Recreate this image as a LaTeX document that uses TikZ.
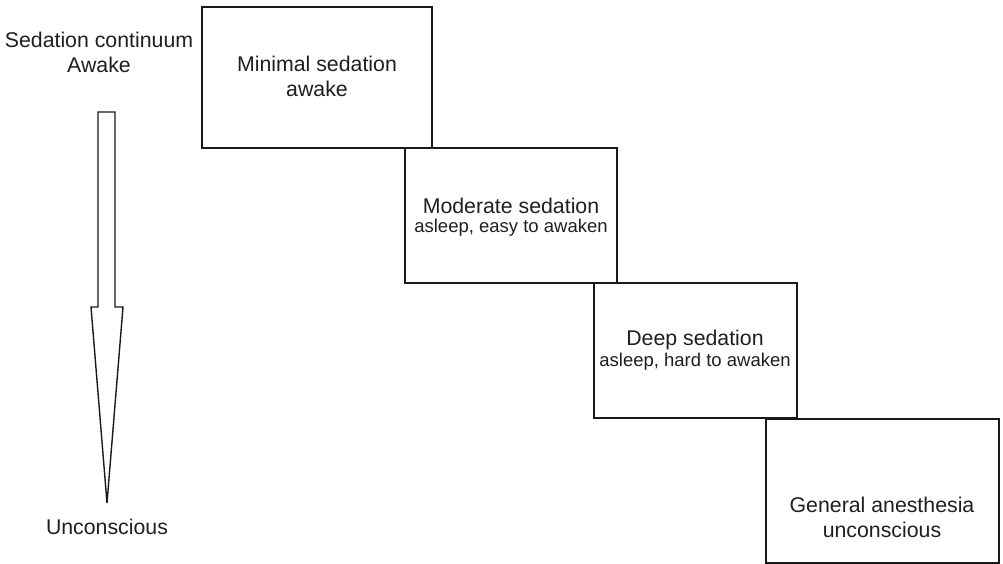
\documentclass[tikz,border=0pt]{standalone}
\usepackage{fontspec}
\setmainfont{Liberation Sans}
\begin{document}
\begin{tikzpicture}[x=1pt,y=-1pt,
  stagebox/.style={draw=black!90, line width=1.6pt, fill=white, inner sep=0pt},
  bigtext/.style={font=\fontsize{21.3}{25}\selectfont, text=black!88, align=center, inner sep=0pt},
  smalltext/.style={font=\fontsize{18.5}{22}\selectfont, text=black!88, align=center, inner sep=0pt},
  continuum/.style={draw=black!90, line width=1.4pt, line join=miter}]
\useasboundingbox (0,0) rectangle (1003,564);

% stage boxes, stepping down to the right
\node[stagebox, minimum width=230pt, minimum height=141pt] (b1) at (317,77.5) {};
\node[stagebox, minimum width=212pt, minimum height=135pt] (b2) at (511,215.5) {};
\node[stagebox, minimum width=203pt, minimum height=135pt] (b3) at (695.5,350.5) {};
\node[stagebox, minimum width=233pt, minimum height=144pt] (b4) at (882.5,491) {};

% stage labels
\node[bigtext] (t1a) at (317,64) {Minimal sedation};
\node[bigtext] (t1b) at (317,89) {awake};
\node[bigtext] (t2a) at (511,206) {Moderate sedation};
\node[smalltext] (t2b) at (511,228) {asleep, easy to awaken};
\node[bigtext] (t3a) at (695,340) {Deep sedation};
\node[smalltext] (t3b) at (695,362) {asleep, hard to awaken};
\node[bigtext] (t4a) at (882,505) {General anesthesia};
\node[bigtext] (t4b) at (882,530) {unconscious};

% continuum scale on the left
\node[bigtext] (ct) at (99,40) {Sedation continuum};
\node[bigtext] (aw) at (99,65) {Awake};
\node[bigtext] (un) at (107,527) {Unconscious};
\draw[continuum] (98,112) -- (115,112) -- (115,307) -- (123,307) -- (107,503)
  -- (91,307) -- (98,307) -- cycle;
\end{tikzpicture}
\end{document}
